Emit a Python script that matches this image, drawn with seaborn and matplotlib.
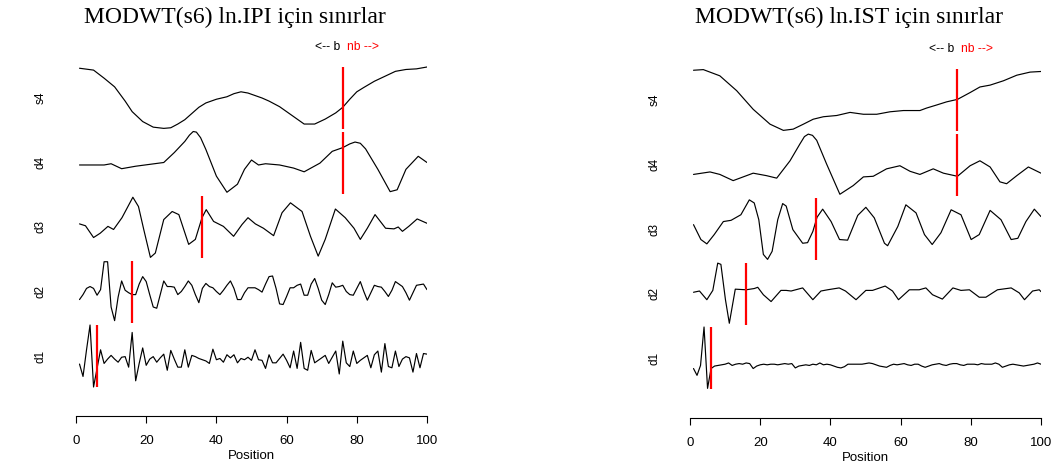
import numpy as np
import pandas as pd
import seaborn as sns
import matplotlib.pyplot as plt

# band heights are given in % of each band (0 = band bottom, 100 = band top)
levels = ["s4", "d4", "d3", "d2", "d1"]
bounds = [76, 76, 36, 16, 6]          # boundary (b / nb) position per level
positions = list(range(1, 101))

# ---- ln.IPI ----
ipi_s4_x = [1, 5, 8, 11, 14, 16, 19, 22, 25, 27, 29, 31, 33, 35, 37, 40, 43, 45, 47, 49, 51, 53, 55,
            58, 60, 62, 65, 68, 71, 74, 76, 78, 80, 82, 85, 88, 91, 94, 97, 100]
ipi_s4_y = [98, 95, 82, 68, 45, 28, 12, 3, 1, 2, 8, 15, 25, 35, 42, 48, 52, 57, 60, 58, 54, 50, 45,
            36, 28, 20, 8, 8, 16, 26, 35, 48, 60, 67, 77, 85, 93, 96, 97, 100]
ipi_d4_x = [1, 5, 8, 10, 13, 17, 21, 25, 28, 31, 32.3, 33.4, 34.3, 35.5, 37, 40, 43, 46, 48, 50, 52,
            54, 58, 62, 65, 69.5, 73, 76, 78, 79.5, 81, 82.5, 86, 89.5, 91.5, 94, 97.5, 100]
ipi_d4_y = [46, 46, 46, 48, 40, 44, 47, 50, 66, 84, 94, 100, 99, 90, 71, 28, 2, 15, 39, 54, 46, 48,
            46, 41, 35, 49, 68, 74, 80, 83, 81, 72, 39, 3, 6, 39, 60, 50]
ipi_d3_x = [1, 2.7, 5, 6.9, 9.1, 10.7, 13.1, 16.2, 17.8, 19.3, 21.2, 22.6, 25, 27.4, 29.3, 32.1, 34,
            35.9, 37.1, 39.2, 42, 44.9, 47.3, 49, 51.1, 53.4, 56.3, 58.7, 61.1, 64.4, 66.8, 69, 71,
            73.9, 76.7, 79.2, 81, 83, 85.2, 88.2, 90.6, 91.8, 93, 94.8, 97.2, 100]
ipi_d3_y = [55, 52, 33, 40, 51, 46, 65, 98, 83, 46, 1, 8, 62, 75, 70, 22, 30, 65, 78, 59, 51, 35,
            54, 65, 55, 48, 36, 73, 89, 75, 35, 3, 30, 79, 65, 48, 30, 48, 70, 48, 47, 50, 43, 51,
            63, 56]
ipi_d2 = [37, 45, 55, 58, 55, 44, 53, 98, 98, 25, 3, 41, 67, 52, 48, 45, 45, 62, 74, 66,
          45, 25, 23, 45, 67, 58, 58, 57, 45, 50, 58, 67, 60, 45, 32, 55, 63, 58, 56, 50,
          45, 52, 60, 67, 55, 37, 37, 48, 56, 56, 56, 53, 49, 62, 74, 75, 55, 30, 29, 42,
          56, 56, 60, 62, 44, 44, 62, 71, 55, 36, 29, 45, 64, 57, 58, 60, 50, 45, 44, 55,
          66, 50, 36, 48, 60, 58, 57, 50, 42, 52, 66, 62, 58, 48, 36, 48, 60, 61, 62, 53]
ipi_d1 = [37, 17, 60, 100, 0, 30, 60, 38, 45, 51, 45, 40, 48, 49, 32, 88, 10, 38, 63, 35,
          45, 49, 40, 47, 53, 27, 59, 45, 32, 32, 60, 32, 51, 49, 46, 44, 42, 38, 61, 44,
          46, 40, 52, 47, 52, 39, 46, 44, 48, 43, 60, 44, 43, 30, 52, 39, 39, 46, 53, 43,
          31, 58, 30, 72, 30, 27, 59, 39, 43, 47, 51, 38, 48, 58, 21, 74, 39, 33, 58, 38,
          43, 47, 51, 31, 52, 58, 24, 70, 33, 31, 58, 33, 45, 49, 47, 24, 54, 31, 54, 53]

# ---- ln.IST ----
ist_s4_x = [1, 3.8, 8.5, 13.3, 18, 22.8, 26.6, 29.4, 32.3, 35.1, 38, 41.8, 45.6, 49.4, 53.2, 57,
            60.8, 65.5, 67.4, 70.3, 73.1, 76.2, 79.8, 82.6, 85.5, 89.3, 93.1, 96.9, 100]
ist_s4_y = [98, 99, 89, 65, 35, 11, 1, 3, 11, 19, 23, 25, 30, 27, 27, 31, 33, 33, 37, 42, 47, 51,
            62, 71, 74, 81, 90, 95, 96]
ist_d4_x = [1, 5.7, 8.5, 12.3, 18, 21.8, 24.7, 28.5, 31.3, 32.6, 33.7, 34.9, 36.1, 38.9, 42.7, 46.5,
            49.4, 52.2, 56, 59.8, 62.7, 65.5, 69.3, 72.2, 76.2, 79.8, 82.6, 85.5, 88.3, 90.2, 93.1,
            96.4, 100]
ist_d4_y = [34, 38, 34, 24, 36, 32, 28, 56, 83, 95, 99, 97, 89, 51, 2, 16, 30, 31, 43, 48, 39, 34,
            43, 36, 31, 48, 56, 46, 22, 19, 32, 46, 36]
ist_d3_x = [1, 3.1, 4.8, 6.9, 9.5, 11.7, 14.5, 16.9, 18.3, 19.6, 20.9, 22.1, 23.4, 25, 26.4, 27.4,
            29.3, 32.1, 33.5, 35, 36.2, 37.8, 40.2, 42.6, 44.9, 47.8, 50.1, 52.5, 55.4, 56.3, 59.2,
            61.5, 64.4, 66.8, 69, 71.5, 74.4, 77.2, 80.1, 82.4, 85.5, 88.6, 91.5, 93.4, 95.7, 98.1,
            100]
ist_d3_y = [57, 33, 26, 41, 62, 64, 73, 97, 92, 65, 9, 1, 14, 65, 91, 87, 49, 27, 28, 46, 69, 82,
            62, 33, 32, 72, 85, 68, 27, 23, 54, 89, 76, 41, 25, 44, 81, 73, 33, 41, 80, 65, 33, 35,
            62, 82, 70]
ist_d2_x = [1, 2.7, 4.8, 6.5, 7.9, 8.8, 10.1, 11.2, 12.9, 16, 18.3, 19.3, 20.9, 23.1, 25.9, 27.4,
            28.8, 32.1, 35, 37.3, 39.2, 42.5, 44.3, 47.3, 50.1, 52, 55.6, 57.7, 59.4, 62.5, 65.3,
            67.2, 69.1, 71.9, 74.9, 77.2, 79.6, 82.4, 84.3, 87.6, 91.5, 93.8, 95.3, 97.6, 99.5, 100]
ist_d2_y = [52, 54, 40, 55, 99, 97, 40, 2, 57, 56, 58, 60, 48, 37, 55, 55, 54, 59, 40, 54, 56, 59,
            54, 40, 55, 55, 62, 54, 40, 56, 56, 59, 48, 41, 59, 55, 56, 44, 44, 56, 59, 51, 40, 54,
            56, 53]
ist_d1 = [33, 22, 38, 100, 1, 33, 37, 38, 39, 40, 42, 38, 40, 41, 40, 42, 41, 33, 37, 39,
          40, 39, 40, 40, 39, 40, 41, 40, 41, 34, 37, 38, 39, 38, 40, 39, 42, 39, 40, 39,
          37, 35, 34, 36, 40, 40, 40, 40, 40, 41, 42, 41, 39, 37, 36, 35, 38, 40, 39, 40,
          41, 39, 38, 40, 40, 37, 35, 37, 39, 40, 41, 39, 38, 40, 41, 41, 39, 38, 40, 40,
          40, 39, 41, 40, 40, 40, 42, 40, 35, 37, 39, 40, 39, 38, 37, 38, 39, 40, 42, 40]

panels = [
    ("MODWT(s6) ln.IPI için sınırlar",
     [(ipi_s4_x, ipi_s4_y), (ipi_d4_x, ipi_d4_y), (ipi_d3_x, ipi_d3_y),
      (positions, ipi_d2), (positions, ipi_d1)]),
    ("MODWT(s6) ln.IST için sınırlar",
     [(ist_s4_x, ist_s4_y), (ist_d4_x, ist_d4_y), (ist_d3_x, ist_d3_y),
      (ist_d2_x, ist_d2_y), (positions, ist_d1)]),
]

sns.set_theme(style="white")
plt.rcParams["font.family"] = ["Liberation Sans", "DejaVu Sans"]
plt.rcParams["text.color"] = "black"
plt.rcParams["axes.labelcolor"] = "black"
plt.rcParams["xtick.color"] = "black"

W, H = 1055, 468
fig = plt.figure(figsize=(W / 100, H / 100), dpi=100)

# layout in pixels: (left, top of axes, axis-line y, title centre x)
layout = [(76, 60, 416, 235), (690, 62, 418, 849)]
band_h = 62
band_bottoms = [287, 222.5, 158, 93.5, 29]   # above the axis line, px
legend_y = 369

for (title, series), (left, top, base, tcx) in zip(panels, layout):
    ax = fig.add_axes([left / W, 1 - base / H, 351 / W, (base - top) / H])
    ax.set_xlim(0, 100)
    ax.set_ylim(0, base - top)
    for name, (xs, ys), b, bot in zip(levels, series, bounds, band_bottoms):
        yy = bot + np.array(ys, dtype=float) / 100 * band_h
        df = pd.DataFrame({"Position": xs, "val": yy})
        sns.lineplot(data=df, x="Position", y="val", ax=ax, color="black", lw=0.85,
                     estimator=None, sort=False)
        ax.vlines(b, bot, bot + band_h, color="red", lw=1.6)
        ax.text(-10.2, bot + band_h / 2, name, rotation=90, ha="center", va="center",
                fontsize=8.5, clip_on=False)
    # b / nb legend at the s4 boundary
    ax.text(bounds[0] - 0.8, legend_y, "<-- b", ha="right", va="center", fontsize=8.7,
            color="black", clip_on=False)
    ax.text(bounds[0] + 1.2, legend_y, "nb -->", ha="left", va="center", fontsize=8.7,
            color="red", clip_on=False)

    for s in ["top", "right", "left"]:
        ax.spines[s].set_visible(False)
    ax.spines["bottom"].set_color("black")
    ax.spines["bottom"].set_linewidth(0.8)
    ax.spines["bottom"].set_bounds(0, 100)
    ax.set_xticks([0, 20, 40, 60, 80, 100])
    ax.set_yticks([])
    ax.tick_params(axis="x", direction="out", length=5, width=0.8, color="black",
                   labelsize=9.5, pad=9, bottom=True)
    ax.set_xlabel("Position", fontsize=9.5, labelpad=2)
    ax.set_ylabel("")
    fig.text(tcx / W, 1 - 17 / H, title, ha="center", va="center", fontsize=17,
             family=["Liberation Serif", "DejaVu Serif"])

plt.savefig("out.png", dpi=100)
plt.close()
